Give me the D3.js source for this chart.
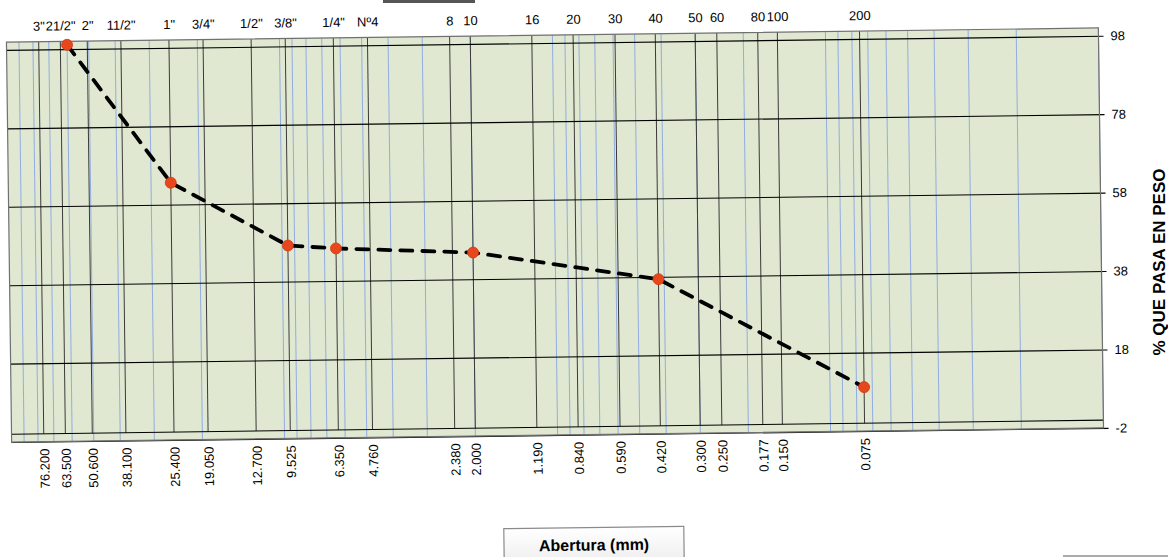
<!DOCTYPE html>
<html>
<head>
<meta charset="utf-8">
<script src="https://cdn.jsdelivr.net/npm/d3@7"></script>
<style>
  html, body { margin: 0; padding: 0; background: #ffffff; }
  svg { display: block; font-family: Arial, "Liberation Sans", sans-serif; }
</style>
</head>
<body>
<svg id="chart" width="1168" height="557"></svg>
<script>
// ---- data ----
const sieveMM = [76.2, 63.5, 50.6, 38.1, 25.4, 19.05, 12.7, 9.525, 6.35, 4.76, 2.38, 2.0, 1.19, 0.84, 0.59, 0.42, 0.30, 0.25, 0.177, 0.15, 0.075];
const sieveTopLabels = ['3"', '21/2"', '2"', '11/2"', '1"', '3/4"', '1/2"', '3/8"', '1/4"', 'Nº4', '8', '10', '16', '20', '30', '40', '50', '60', '80', '100', '200'];
const sieveBottomLabels = ["76.200", "63.500", "50.600", "38.100", "25.400", "19.050", "12.700", "9.525", "6.350", "4.760", "2.380", "2.000", "1.190", "0.840", "0.590", "0.420", "0.300", "0.250", "0.177", "0.150", "0.075"];
const sampleMM = [60, 25.4, 9.525, 6.35, 2.0, 0.42, 0.075];
const samplePass = [99.1, 63.6, 47.2, 46.3, 44.8, 37.4, 9.2];
const yTicks = [98, 78, 58, 38, 18, -2];
const xDomain = [100, 0.01];
const yDomain = [-2, 100];

// ---- layout ----
const L = 9, R = 1101, T = 35, B = 435;
const svg = d3.select("#chart");

// scan artifacts at the page edges
svg.append("rect").attr("x", 383).attr("y", 0).attr("width", 92).attr("height", 3).attr("fill", "#555");
svg.append("rect").attr("x", 1063).attr("y", 555).attr("width", 105).attr("height", 2).attr("fill", "#aaa");

const g = svg.append("g").attr("transform", "rotate(-0.74, 555, 235)");

const x = d3.scaleLog().domain(xDomain).range([L, R]);
const y = d3.scaleLinear().domain(yDomain).range([B, T]);

// plot background
g.append("rect").attr("x", L).attr("y", T).attr("width", R - L).attr("height", B - T)
  .attr("fill", "#e0e8d1");

// blue log grid lines
const minor = [];
for (let k = -2; k <= 1; k++) for (let m = 1; m <= 9; m++) minor.push(m * Math.pow(10, k));
g.append("g").selectAll("line").data(minor).join("line")
  .attr("x1", d => x(d)).attr("x2", d => x(d))
  .attr("y1", T).attr("y2", B)
  .attr("stroke", "#7f9ee6").attr("stroke-width", 1).attr("opacity", 0.8);

// black sieve lines (0 to 100 %)
g.append("g").selectAll("line").data(sieveMM).join("line")
  .attr("x1", d => x(d)).attr("x2", d => x(d))
  .attr("y1", y(0)).attr("y2", y(100))
  .attr("stroke", "#3a3a3a").attr("stroke-width", 1);

// horizontal grid + ticks (right axis)
const yAxis = d3.axisRight(y).tickValues(yTicks).tickSize(-(R - L)).tickPadding(0).tickFormat(d => String(d));
const ya = g.append("g").attr("transform", `translate(${R},0)`).call(yAxis);
ya.select(".domain").remove();
ya.selectAll(".tick line").attr("stroke", "#000").attr("stroke-width", 1.1).attr("x2", 5);
ya.selectAll(".tick line").attr("x1", -(R - L));
ya.selectAll(".tick text").attr("x", 12).attr("font-size", 13).attr("fill", "#000")
  .attr("font-family", "Arial, 'Liberation Sans', sans-serif");

// zero line
g.append("line").attr("x1", L).attr("x2", R).attr("y1", y(0)).attr("y2", y(0))
  .attr("stroke", "#000").attr("stroke-width", 1.1);

// plot border
g.append("rect").attr("x", L).attr("y", T).attr("width", R - L).attr("height", B - T)
  .attr("fill", "none").attr("stroke", "#707070").attr("stroke-width", 1.2);

// top sieve labels
const xTop = d3.axisTop(x).tickValues(sieveMM).tickSize(0).tickPadding(11)
  .tickFormat((d, i) => sieveTopLabels[i]);
const xt = g.append("g").attr("transform", `translate(0,${T})`).call(xTop);
xt.select(".domain").remove();
xt.selectAll(".tick text").attr("font-size", 13).attr("fill", "#000")
  .attr("font-family", "Arial, 'Liberation Sans', sans-serif");

// bottom mm labels (rotated)
const xBot = d3.axisBottom(x).tickValues(sieveMM).tickSize(0)
  .tickFormat((d, i) => sieveBottomLabels[i]);
const xb = g.append("g").attr("transform", `translate(0,${B})`).call(xBot);
xb.select(".domain").remove();
xb.selectAll(".tick text")
  .attr("transform", "rotate(-90)")
  .attr("x", -7).attr("y", 0).attr("dy", "0.36em")
  .attr("text-anchor", "end")
  .attr("font-size", 13).attr("fill", "#000")
  .attr("font-family", "Arial, 'Liberation Sans', sans-serif");

// curve
const pts = sampleMM.map((d, i) => [d, samplePass[i]]);
const line = d3.line().x(d => x(d[0])).y(d => y(d[1]));
g.append("path").datum(pts).attr("d", line)
  .attr("fill", "none").attr("stroke", "#000").attr("stroke-width", 3.8)
  .attr("stroke-dasharray", "12,10").attr("stroke-linecap", "round");

g.append("g").selectAll("circle").data(pts).join("circle")
  .attr("cx", d => x(d[0])).attr("cy", d => y(d[1])).attr("r", 5.5)
  .attr("fill", "#e8461c").attr("stroke", "#d2380f").attr("stroke-width", 0.8);

// x axis title box
const defs = svg.append("defs");
const grad = defs.append("linearGradient").attr("id", "boxg").attr("x1", 0).attr("y1", 0).attr("x2", 0).attr("y2", 1);
grad.append("stop").attr("offset", "0%").attr("stop-color", "#ffffff");
grad.append("stop").attr("offset", "100%").attr("stop-color", "#ececec");
g.append("rect").attr("x", 500).attr("y", 528).attr("width", 180).attr("height", 40)
  .attr("fill", "url(#boxg)").attr("stroke", "#8a8a8a").attr("stroke-width", 1.2);
g.append("text").attr("x", 590).attr("y", 551).attr("text-anchor", "middle")
  .attr("font-size", 16).attr("font-weight", "bold").attr("fill", "#000")
  .text("Abertura (mm)");

// y axis title
svg.append("text").attr("transform", "translate(1165,262) rotate(-90)")
  .attr("text-anchor", "middle").attr("font-size", 17).attr("font-weight", "bold").attr("fill", "#000")
  .text("% QUE PASA EN PESO");
</script>
</body>
</html>
